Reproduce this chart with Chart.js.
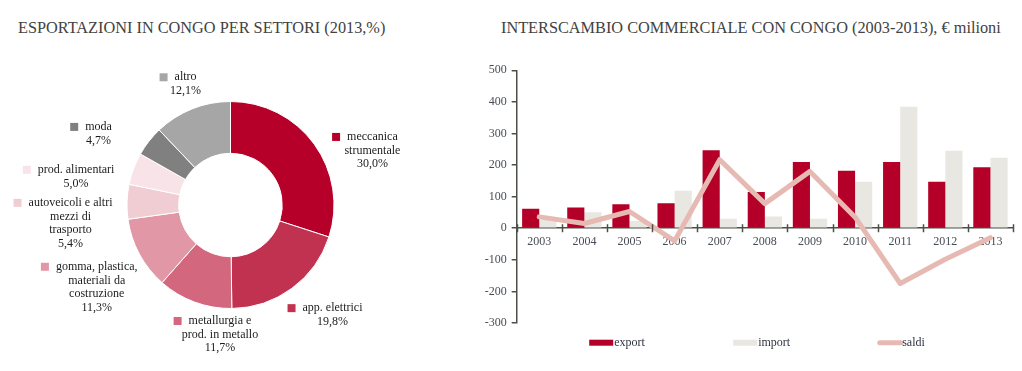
<!DOCTYPE html>
<html lang="it">
<head>
  <meta charset="UTF-8">
  <title>Congo - esportazioni e interscambio</title>
  <script src="https://cdn.jsdelivr.net/npm/chart.js"></script>
  <style>
    body { margin: 0; width: 1022px; height: 371px; background: #fff; position: relative; overflow: hidden; font-family: 'Liberation Serif', serif; }
    .title { position: absolute; top: 18px; font-size: 16.3px; line-height: 20px; color: #424242; white-space: nowrap; }
    #t1 { left: 18px; }
    #t2 { left: 501px; }
    .box { position: absolute; top: 55px; height: 316px; }
    #pieBox { left: 0; width: 460px; }
    #barBox { left: 470px; width: 552px; }
  </style>
</head>
<body>
  <div class="title" id="t1">ESPORTAZIONI IN CONGO PER SETTORI (2013,%)</div>
  <div class="title" id="t2">INTERSCAMBIO COMMERCIALE CON CONGO (2003-2013), € milioni</div>
  <div class="box" id="pieBox"><canvas id="pie"></canvas></div>
  <div class="box" id="barBox"><canvas id="bars"></canvas></div>

  <script>
    // esportazioni per settore, 2013 (%)
    const sectors = ['meccanica strumentale', 'app. elettrici', 'metallurgia e prod. in metallo',
      'gomma, plastica, materiali da costruzione', 'autoveicoli e altri mezzi di trasporto',
      'prod. alimentari', 'moda', 'altro'];
    const sectorLines = [['meccanica', 'strumentale'], ['app. elettrici'], ['metallurgia e', 'prod. in metallo'],
      ['gomma, plastica,', 'materiali da', 'costruzione'], ['autoveicoli e altri', 'mezzi di', 'trasporto'],
      ['prod. alimentari'], ['moda'], ['altro']];
    const shares = [30.0, 19.8, 11.7, 11.3, 5.4, 5.0, 4.7, 12.1];

    // interscambio 2003-2013 (milioni di euro)
    const years = ['2003', '2004', '2005', '2006', '2007', '2008', '2009', '2010', '2011', '2012', '2013'];
    const exportVals = [62, 66, 76, 79, 247, 115, 210, 182, 210, 147, 193];
    const importVals = [26, 51, 23, 119, 30, 37, 30, 147, 385, 245, 223];
    const saldiVals = [36, 15, 53, -40, 217, 78, 180, 35, -175, -98, -30];

    const sectorColors = ['#b70029', '#c13250', '#d3677e', '#e197a6', '#f0cdd3', '#f8e4e8', '#808080', '#a6a6a6'];
    const axisColor = '#4b5047';
    const tickColor = '#474d55';
    const serif = 'Liberation Serif';

    // where each slice label sits: [angle shift in degrees, distance from centre]
    const labelPlace = [[15, 152], [-6.5, 150], [-15.7, 130], [-3.3, 157], [-8.3, 161], [-10.1, 157], [-9.6, 150], [1.4, 129]];

    const sliceLabels = {
      id: 'sliceLabels',
      afterDraw(chart) {
        const ctx = chart.ctx;
        const arcs = chart.getDatasetMeta(0).data;
        ctx.save();
        ctx.font = '12px "' + serif + '"';
        ctx.textAlign = 'center';
        ctx.textBaseline = 'middle';
        arcs.forEach((arc, i) => {
          const a = (arc.startAngle + arc.endAngle) / 2 + labelPlace[i][0] * Math.PI / 180;
          const cx = arc.x + Math.cos(a) * labelPlace[i][1];
          const cy = arc.y + Math.sin(a) * labelPlace[i][1];
          const lines = sectorLines[i].concat(shares[i].toFixed(1).replace('.', ',') + '%');
          const lh = 13.6;
          const top = cy - (lines.length - 1) * lh / 2;
          ctx.fillStyle = '#1c1c1c';
          lines.forEach((t, j) => ctx.fillText(t, cx, top + j * lh));
          const w = ctx.measureText(lines[0]).width;
          ctx.fillStyle = sectorColors[i];
          ctx.fillRect(cx - w / 2 - 15, top - 4, 8, 8);
        });
        ctx.restore();
      }
    };

    // small ticks crossing the x axis at each category boundary
    const crossTicks = {
      id: 'crossTicks',
      afterDraw(chart) {
        const x = chart.scales.x, y = chart.scales.y;
        const y0 = y.getPixelForValue(0);
        const ctx = chart.ctx;
        ctx.save();
        ctx.strokeStyle = axisColor;
        ctx.lineWidth = 1.5;
        for (let i = 0; i <= years.length; i++) {
          const px = Math.round(x.getPixelForValue(i - 0.5)) + 0.5;
          ctx.beginPath();
          ctx.moveTo(px, y0 - 4);
          ctx.lineTo(px, y0 + 4);
          ctx.stroke();
        }
        ctx.restore();
      }
    };

    // legend drawn by hand to get the wide spacing of the original
    const wideLegend = {
      id: 'wideLegend',
      afterDraw(chart) {
        const ctx = chart.ctx;
        const order = ['export', 'import', 'saldi'];
        const x0 = chart.chartArea.left + 72.5, step = 144, y = 287.7;
        ctx.save();
        ctx.font = '12px "' + serif + '"';
        ctx.textBaseline = 'middle';
        ctx.textAlign = 'left';
        order.forEach((name, k) => {
          const ds = chart.data.datasets.find(d => d.label === name);
          const x = x0 + k * step;
          if (ds.type === 'line') {
            ctx.strokeStyle = ds.borderColor;
            ctx.lineWidth = 5;
            ctx.lineCap = 'round';
            ctx.beginPath();
            ctx.moveTo(x + 2.5, y);
            ctx.lineTo(x + 23.5, y);
            ctx.stroke();
          } else {
            ctx.fillStyle = ds.backgroundColor;
            ctx.fillRect(x, y - 3, 24, 6);
          }
          ctx.fillStyle = '#2e3440';
          ctx.fillText(name, x + 25, y);
        });
        ctx.restore();
      }
    };

    function drawCharts() {
      new Chart(document.getElementById('pie'), {
        type: 'doughnut',
        data: {
          labels: sectors,
          datasets: [{
            data: shares,
            backgroundColor: sectorColors,
            borderColor: '#ffffff',
            borderWidth: 1
          }]
        },
        options: {
          responsive: true,
          maintainAspectRatio: false,
          animation: false,
          cutout: '50%',
          layout: { padding: { left: 126.5, right: 125.5, top: 46, bottom: 62 } },
          plugins: { legend: { display: false }, tooltip: { enabled: false } }
        },
        plugins: [sliceLabels]
      });

      new Chart(document.getElementById('bars'), {
        type: 'bar',
        data: {
          labels: years,
          datasets: [
            { type: 'line', label: 'saldi', data: saldiVals, borderColor: '#e6bab2', borderWidth: 5,
              pointRadius: 0, tension: 0, borderCapStyle: 'round', borderJoinStyle: 'round', order: 0 },
            { type: 'bar', label: 'export', data: exportVals, backgroundColor: '#b40029', order: 1 },
            { type: 'bar', label: 'import', data: importVals, backgroundColor: '#e9e7e2', order: 1 }
          ]
        },
        options: {
          responsive: true,
          maintainAspectRatio: false,
          animation: false,
          layout: { padding: { top: 15.3, right: 9, bottom: 48, left: 0 } },
          datasets: { bar: { categoryPercentage: 0.76, barPercentage: 1 } },
          scales: {
            x: {
              position: { y: 0 },
              offset: true,
              grid: { display: false, drawTicks: false },
              border: { color: axisColor, width: 1.5 },
              ticks: { color: tickColor, font: { family: serif, size: 12 }, padding: 6, maxRotation: 0, autoSkip: false }
            },
            y: {
              min: -300,
              max: 500,
              grid: { drawOnChartArea: false, drawTicks: true, tickLength: 5, color: axisColor, lineWidth: 1.5 },
              border: { color: axisColor, width: 1.5 },
              ticks: { stepSize: 100, color: tickColor, font: { family: serif, size: 12 }, padding: 5 },
              afterFit(scale) { scale.width = 46.7; }
            }
          },
          plugins: { legend: { display: false }, tooltip: { enabled: false } }
        },
        plugins: [crossTicks, wideLegend]
      });
    }

    document.fonts.load('12px "' + serif + '"').then(drawCharts, drawCharts);
  </script>
</body>
</html>
